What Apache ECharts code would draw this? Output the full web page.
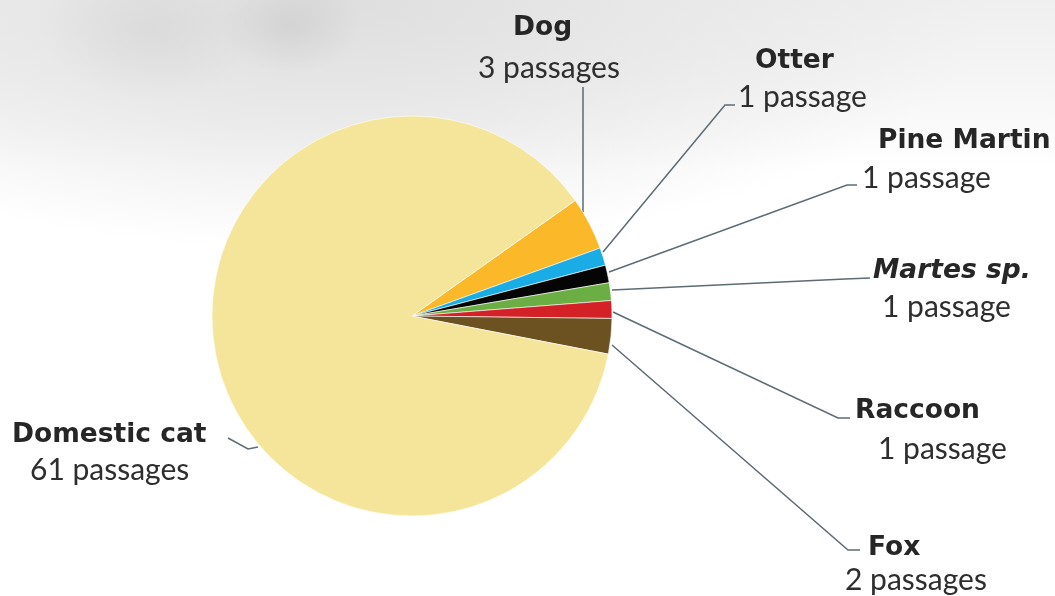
<!DOCTYPE html>
<html>
<head>
<meta charset="utf-8">
<script src="https://cdn.jsdelivr.net/npm/echarts@6/dist/echarts.min.js"></script>
<style>
  html, body { margin: 0; padding: 0; }
  body {
    width: 1055px; height: 596px; overflow: hidden;
    background:
      radial-gradient(ellipse 70px 50px at 290px 25px, rgba(195,195,195,0.45), rgba(195,195,195,0) 100%),
      radial-gradient(ellipse 110px 70px at 150px 30px, rgba(205,205,205,0.4), rgba(205,205,205,0) 100%),
      radial-gradient(ellipse 660px 250px at 330px 0px, rgba(222,222,222,1) 0%, rgba(230,230,230,0.85) 45%, rgba(255,255,255,0) 100%),
      linear-gradient(to bottom, #efefef 0px, #f5f5f5 80px, #ffffff 170px);
  }
  #chart { width: 1055px; height: 596px; }
</style>
</head>
<body>
<div id="chart"></div>
<script>
// Mammal passages recorded, one slice per species
const species = ['Dog', 'Otter', 'Pine Martin', 'Martes sp.', 'Raccoon', 'Fox', 'Domestic cat'];
const passages = [3, 1, 1, 1, 1, 2, 61];
const sliceColors = ['#fbb829', '#1aace4', '#050505', '#6aae44', '#d42027', '#6d5221', '#f4e59a'];

// Label placement: top-left of each text block, per-line indents and line gap
const labelBoxes = [
  { x: 478, y: 8,   namePad: 35, valuePad: 0,  gap: 40 },
  { x: 738, y: 41,  namePad: 17, valuePad: 0,  gap: 36 },
  { x: 862, y: 121, namePad: 16, valuePad: 0,  gap: 37 },
  { x: 873, y: 251, namePad: 0,  valuePad: 9,  gap: 36 },
  { x: 855, y: 391, namePad: 0,  valuePad: 23, gap: 38 },
  { x: 845, y: 528, namePad: 23, valuePad: 0,  gap: 32 },
  { x: 12,  y: 415, namePad: 0,  valuePad: 18, gap: 35 }
];
// Leader lines from the slice edge to the label
const leaderLines = [
  [[583, 212], [583, 87], [583, 87]],
  [[603, 252], [725, 105], [735, 105]],
  [[609, 272], [847, 185], [857, 185]],
  [[612, 290], [845, 279], [870, 278]],
  [[613, 312], [838, 418], [850, 418]],
  [[612, 345], [848, 550], [860, 550]],
  [[258, 447], [248, 449], [228, 438]]
];

const nameFont = 'DejaVu Sans';
const valueFont = 'Lato';
const nameLineHeight = 40;

const data = species.map((name, i) => ({
  name: name,
  value: passages[i],
  itemStyle: { color: sliceColors[i] },
  label: {
    rich: {
      n: {
        fontFamily: nameFont, fontSize: 26.5, fontWeight: 'bold',
        fontStyle: name === 'Martes sp.' ? 'italic' : 'normal',
        color: '#262626', lineHeight: nameLineHeight,
        padding: [0, 0, 0, labelBoxes[i].namePad]
      },
      v: {
        fontFamily: valueFont, fontSize: 30, color: '#2e2e2e',
        lineHeight: 2 * labelBoxes[i].gap - nameLineHeight,
        padding: [0, 0, 0, labelBoxes[i].valuePad]
      }
    }
  }
}));

const chart = echarts.init(document.getElementById('chart'), null, { renderer: 'canvas' });
chart.setOption({
  animation: false,
  backgroundColor: 'transparent',
  series: [{
    type: 'pie',
    center: [412, 316],
    radius: 200,
    startAngle: 35.3,
    clockwise: true,
    avoidLabelOverlap: false,
    itemStyle: { borderColor: '#ffffff', borderWidth: 0.6 },
    emphasis: { disabled: true },
    label: {
      show: true,
      position: 'outside',
      align: 'left',
      formatter: p => '{n|' + p.name + '}\n{v|' + p.value + ' passage' + (p.value > 1 ? 's' : '') + '}'
    },
    labelLine: {
      show: true,
      lineStyle: { color: '#5d6b73', width: 1.5 }
    },
    labelLayout: params => {
      const i = params.dataIndex;
      return {
        x: labelBoxes[i].x,
        y: labelBoxes[i].y,
        align: 'left',
        verticalAlign: 'top',
        labelLinePoints: leaderLines[i]
      };
    },
    data: data
  }]
});
</script>
</body>
</html>
